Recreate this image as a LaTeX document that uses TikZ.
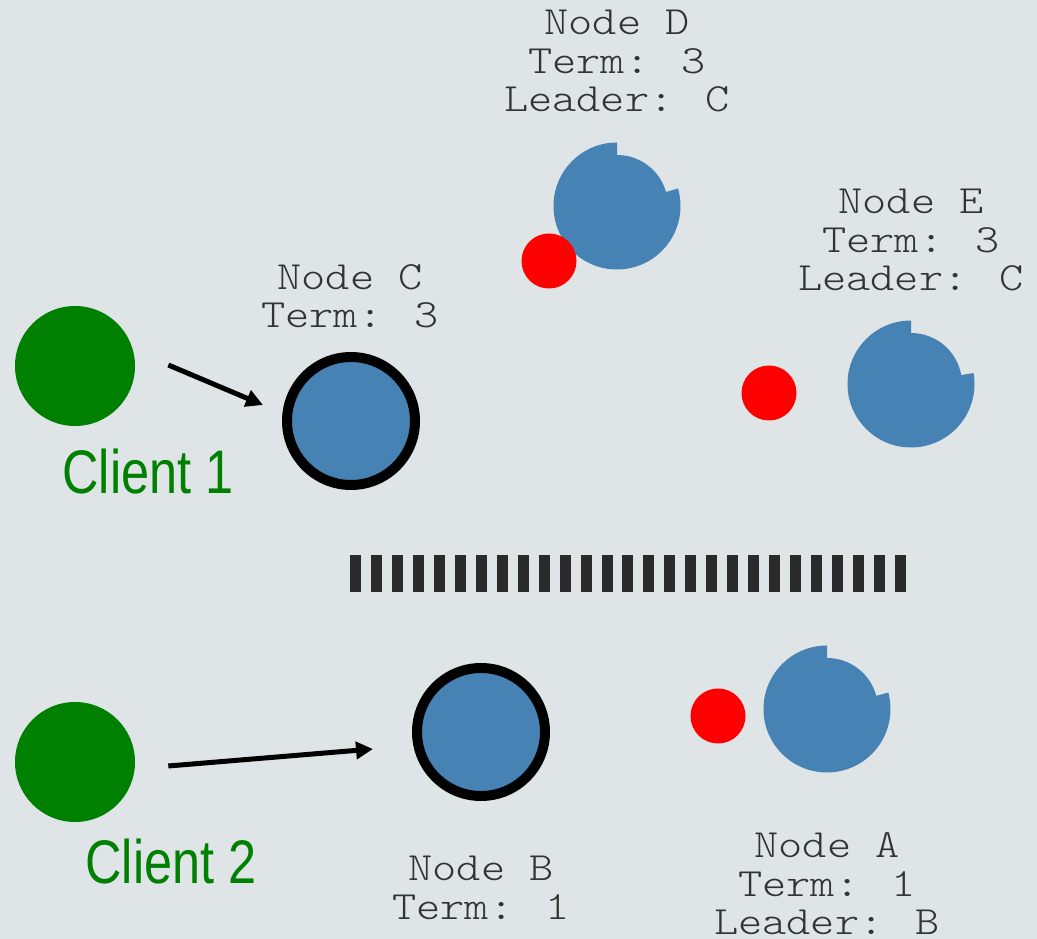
\documentclass[tikz,border=0pt]{standalone}
\usepackage{fontspec}
\newfontfamily\termfont[FakeStretch=1.15]{Latin Modern Mono Light}
\newfontfamily\clientfont[FakeStretch=0.82]{Liberation Sans}
\definecolor{PanelGray}{RGB}{223, 228, 230}
\definecolor{NodeBlue}{RGB}{70, 130, 180}
\definecolor{ClientGreen}{RGB}{0, 128, 0}
\definecolor{TimerRed}{RGB}{255, 0, 0}
\definecolor{SplitGray}{RGB}{42, 42, 42}
\usetikzlibrary{arrows.meta, calc}

\begin{document}
\begin{tikzpicture}[
        client/.style={circle, minimum size=2.4cm, fill=ClientGreen},
        server/.style={circle, minimum size=2.56cm, fill=NodeBlue, draw=black, line width=0.2cm},
        timer/.style={circle, minimum size=1.1cm, fill=TimerRed},
        info/.style={font={\termfont\fontsize{22.8}{21.9}\selectfont}, text=black!80, align=center},
        tag/.style={font={\clientfont\fontsize{35}{40}\selectfont}, text=ClientGreen},
        req/.style={-{Triangle[length=0.34cm, width=0.34cm]}, line width=0.1cm}
    ]
        \fill[PanelGray] (0,0) rectangle (20.74,18.78);
        \useasboundingbox (0,0) rectangle (20.74,18.78);

        % clients
        \node[client] (client1) at (1.50,11.46) {};
        \node[client] (client2) at (1.50,3.54) {};
        \node[tag] (tag1) at (2.96,9.34) {Client 1};
        \node[tag] (tag2) at (3.42,1.55) {Client 2};

        % candidates on both sides of the split
        \node[server] (nodeC) at (7.02,10.36) {};
        \node[server] (nodeB) at (9.62,4.14) {};

        % followers with their election timers
        \coordinate (nodeD) at (12.34,14.66);
        \coordinate (nodeE) at (18.22,11.10);
        \coordinate (nodeA) at (16.54,4.60);
        \fill[NodeBlue] (nodeD) ++(90:1.27) arc[start angle=90, end angle=376, radius=1.27]
            -- ($(nodeD)+(16:1.02)$) arc[start angle=16, end angle=90, radius=1.02] -- cycle;
        \fill[NodeBlue] (nodeE) ++(90:1.27) arc[start angle=90, end angle=370, radius=1.27]
            -- ($(nodeE)+(10:1.02)$) arc[start angle=10, end angle=90, radius=1.02] -- cycle;
        \fill[NodeBlue] (nodeA) ++(90:1.27) arc[start angle=90, end angle=375, radius=1.27]
            -- ($(nodeA)+(15:1.02)$) arc[start angle=15, end angle=90, radius=1.02] -- cycle;
        \node[timer] (timerD) at (10.98,13.56) {};
        \node[timer] (timerE) at (15.38,10.92) {};
        \node[timer] (timerA) at (14.36,4.46) {};

        % state of each node
        \node[info] (infoD) at (12.34,17.56) {Node D\\Term: 3\\Leader: C};
        \node[info] (infoE) at (18.22,13.98) {Node E\\Term: 3\\Leader: C};
        \node[info] (infoC) at (7.00,12.85) {Node C\\Term: 3};
        \node[info] (infoB) at (9.62,1.02) {Node B\\Term: 1};
        \node[info] (infoA) at (16.54,1.10) {Node A\\Term: 1\\Leader: B};

        % network partition
        \draw[SplitGray, line width=0.74cm, dash pattern=on 0.22cm off 0.1992cm] (7.00,7.31) -- (18.12,7.31);

        % client requests
        \draw[req] ($(client1.east)+(0.66,0.02)$) -- ($(nodeC.west)+(-0.38,0.32)$);
        \draw[req] ($(client2.east)+(0.66,-0.08)$) -- ($(nodeB.west)+(-0.78,-0.34)$);
    \end{tikzpicture}
\end{document}
